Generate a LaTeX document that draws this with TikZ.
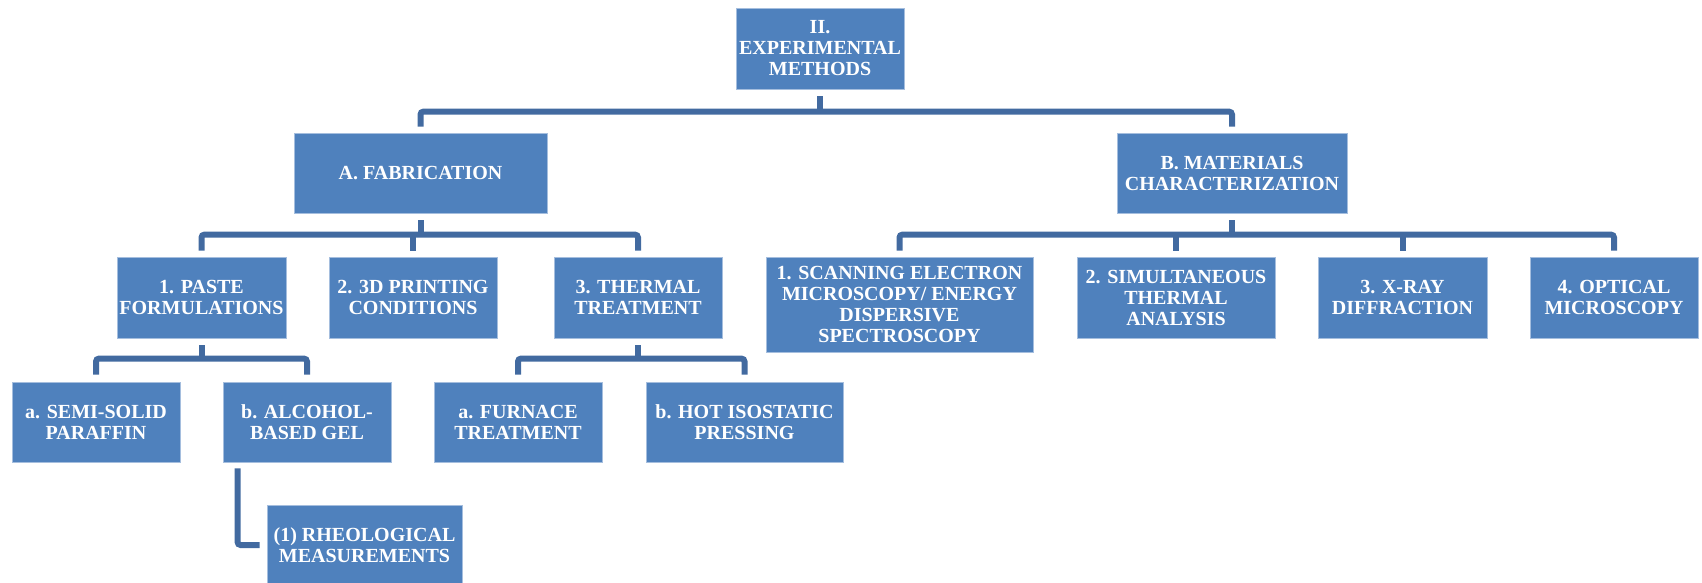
\documentclass[tikz,border=0pt]{standalone}
\usepackage{fontspec}
\setmainfont{Liberation Serif}
\usetikzlibrary{calc}
\definecolor{boxblue}{RGB}{79,129,189}
\definecolor{boxedge}{RGB}{165,190,222}
\definecolor{linkblue}{RGB}{66,106,160}
\tikzset{
  box/.style={rectangle, fill=boxblue, draw=boxedge, line width=0.8pt,
    text=white, font=\bfseries\fontsize{20}{21}\selectfont, align=center,
    inner sep=0pt, minimum height=80pt},
  conn/.style={draw=linkblue, line width=6pt, rounded corners=3pt},
}
\begin{document}
\begin{tikzpicture}[x=1pt,y=-1pt]
\useasboundingbox (0,0) rectangle (1702,583);
% nodes
\node[box, minimum width=168pt, minimum height=81pt] (top) at (820,48.5) {II.\\EXPERIMENTAL\\METHODS};
\node[box, minimum width=253pt] (A) at (420.5,173) {A. FABRICATION};
\node[box, minimum width=230pt] (B) at (1232,173) {B. MATERIALS\\CHARACTERIZATION};
\node[box, minimum width=169pt, minimum height=81pt] (P1) at (201.5,297.5) {1. PASTE\\FORMULATIONS};
\node[box, minimum width=168pt, minimum height=81pt] (P2) at (413,297.5) {2. 3D PRINTING\\CONDITIONS};
\node[box, minimum width=168pt, minimum height=81pt] (P3) at (638,297.5) {3. THERMAL\\TREATMENT};
\node[box, minimum width=267pt, minimum height=95pt] (S1) at (899.5,304.5) {1. SCANNING ELECTRON\\MICROSCOPY/ ENERGY\\DISPERSIVE\\SPECTROSCOPY};
\node[box, minimum width=198pt, minimum height=81pt] (S2) at (1176,297.5) {2. SIMULTANEOUS\\THERMAL\\ANALYSIS};
\node[box, minimum width=169pt, minimum height=81pt] (S3) at (1402.5,297.5) {3. X-RAY\\DIFFRACTION};
\node[box, minimum width=168pt, minimum height=81pt] (S4) at (1614,297.5) {4. OPTICAL\\MICROSCOPY};
\node[box, minimum width=168pt] (a1) at (96,422) {a. SEMI-SOLID\\PARAFFIN};
\node[box, minimum width=168pt] (a2) at (307,422) {b. ALCOHOL-\\BASED GEL};
\node[box, minimum width=168pt] (t1) at (518,422) {a. FURNACE\\TREATMENT};
\node[box, minimum width=197pt] (t2) at (744.5,422) {b. HOT ISOSTATIC\\PRESSING};
\node[box, minimum width=195pt] (R) at (364.5,545) {(1) RHEOLOGICAL\\MEASUREMENTS};
% level 1
\draw[conn] ($(top.south)+(0,7)$) -- ($(top.south)+(0,23)$);
\draw[conn] ($(A.north)+(0,-6)$) |- ($(B.north)+(0,-21)$) -- ($(B.north)+(0,-6)$);
% under A
\draw[conn] ($(A.south)+(0,7)$) -- ($(A.south)+(0,22)$);
\draw[conn] ($(P1.north)+(0,-6)$) |- ($(P3.north)+(0,-22)$) -- ($(P3.north)+(0,-6)$);
\draw[conn] ($(P2.north)+(0,-6)$) -- ($(P2.north)+(0,-22)$);
% under B
\draw[conn] ($(B.south)+(0,7)$) -- ($(B.south)+(0,22)$);
\draw[conn] ($(S1.north)+(0,-6)$) |- ($(S4.north)+(0,-22)$) -- ($(S4.north)+(0,-6)$);
\draw[conn] ($(S2.north)+(0,-6)$) -- ($(S2.north)+(0,-22)$);
\draw[conn] ($(S3.north)+(0,-6)$) -- ($(S3.north)+(0,-22)$);
% under P1
\draw[conn] ($(P1.south)+(0,7)$) -- ($(P1.south)+(0,21)$);
\draw[conn] ($(a1.north)+(0,-7)$) |- ($(a2.north)+(0,-23)$) -- ($(a2.north)+(0,-7)$);
% under P3
\draw[conn] ($(P3.south)+(0,7)$) -- ($(P3.south)+(0,21)$);
\draw[conn] ($(t1.north)+(0,-7)$) |- ($(t2.north)+(0,-23)$) -- ($(t2.north)+(0,-7)$);
% a2 to R
\draw[conn] ($(a2.south west)+(15,6)$) |- ($(R.west)+(-7,0)$);
\end{tikzpicture}
\end{document}
